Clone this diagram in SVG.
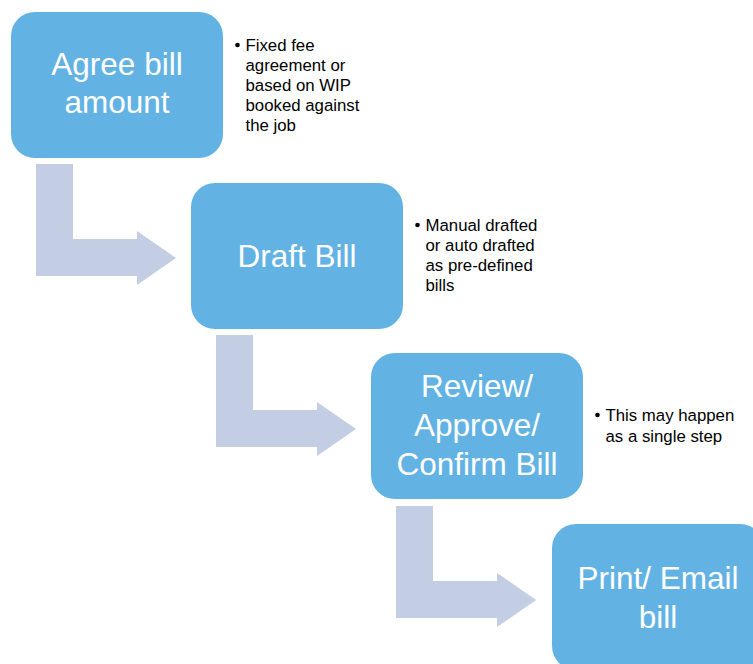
<svg xmlns="http://www.w3.org/2000/svg" width="753" height="664" viewBox="0 0 753 664">
  <defs>
    <style>
      .box { fill: #62B3E4; }
      .flow { fill: #C3CDE3; }
      .title { fill: #ffffff; font-family: "Liberation Sans", Arial, sans-serif; font-size: 31.5px; text-anchor: middle; }
      .note { fill: #000000; font-family: "Liberation Sans", Arial, sans-serif; font-size: 16.8px; }
      .dot { fill: #000000; }
    </style>
    <path id="bent" d="M0,0 H37 V75 H101 V67 L140,94 L101,121 V112 H0 Z"/>
  </defs>
  <rect width="753" height="664" fill="#ffffff"/>

  <!-- bent arrows between steps -->
  <g id="connectors">
    <use href="#bent" class="flow" x="36" y="164"/>
    <use href="#bent" class="flow" x="216" y="335"/>
    <use href="#bent" class="flow" x="396" y="506"/>
  </g>

  <g id="agree">
    <rect class="box" x="11" y="12" width="212" height="146" rx="24"/>
    <text class="title" x="117" y="75">Agree bill</text>
    <text class="title" x="117" y="113">amount</text>
    <circle class="dot" cx="237.5" cy="45" r="2.3"/>
    <text class="note" x="245.5" y="51">Fixed fee</text>
    <text class="note" x="245.5" y="71">agreement or</text>
    <text class="note" x="245.5" y="91">based on WIP</text>
    <text class="note" x="245.5" y="111">booked against</text>
    <text class="note" x="245.5" y="131">the job</text>
  </g>

  <g id="draft">
    <rect class="box" x="191" y="183" width="212" height="146" rx="24"/>
    <text class="title" x="297" y="267">Draft Bill</text>
    <circle class="dot" cx="417.5" cy="225" r="2.3"/>
    <text class="note" x="425.5" y="231">Manual drafted</text>
    <text class="note" x="425.5" y="251">or auto drafted</text>
    <text class="note" x="425.5" y="271">as pre-defined</text>
    <text class="note" x="425.5" y="291">bills</text>
  </g>

  <g id="review">
    <rect class="box" x="371" y="353" width="212" height="146" rx="24"/>
    <text class="title" x="477" y="397">Review/</text>
    <text class="title" x="477" y="436">Approve/</text>
    <text class="title" x="477" y="475">Confirm Bill</text>
    <circle class="dot" cx="597.5" cy="415" r="2.3"/>
    <text class="note" x="605.5" y="421">This may happen</text>
    <text class="note" x="605.5" y="442">as a single step</text>
  </g>

  <g id="print">
    <rect class="box" x="552" y="524" width="212" height="146" rx="24"/>
    <text class="title" x="658" y="589">Print/ Email</text>
    <text class="title" x="658" y="628">bill</text>
  </g>
</svg>
